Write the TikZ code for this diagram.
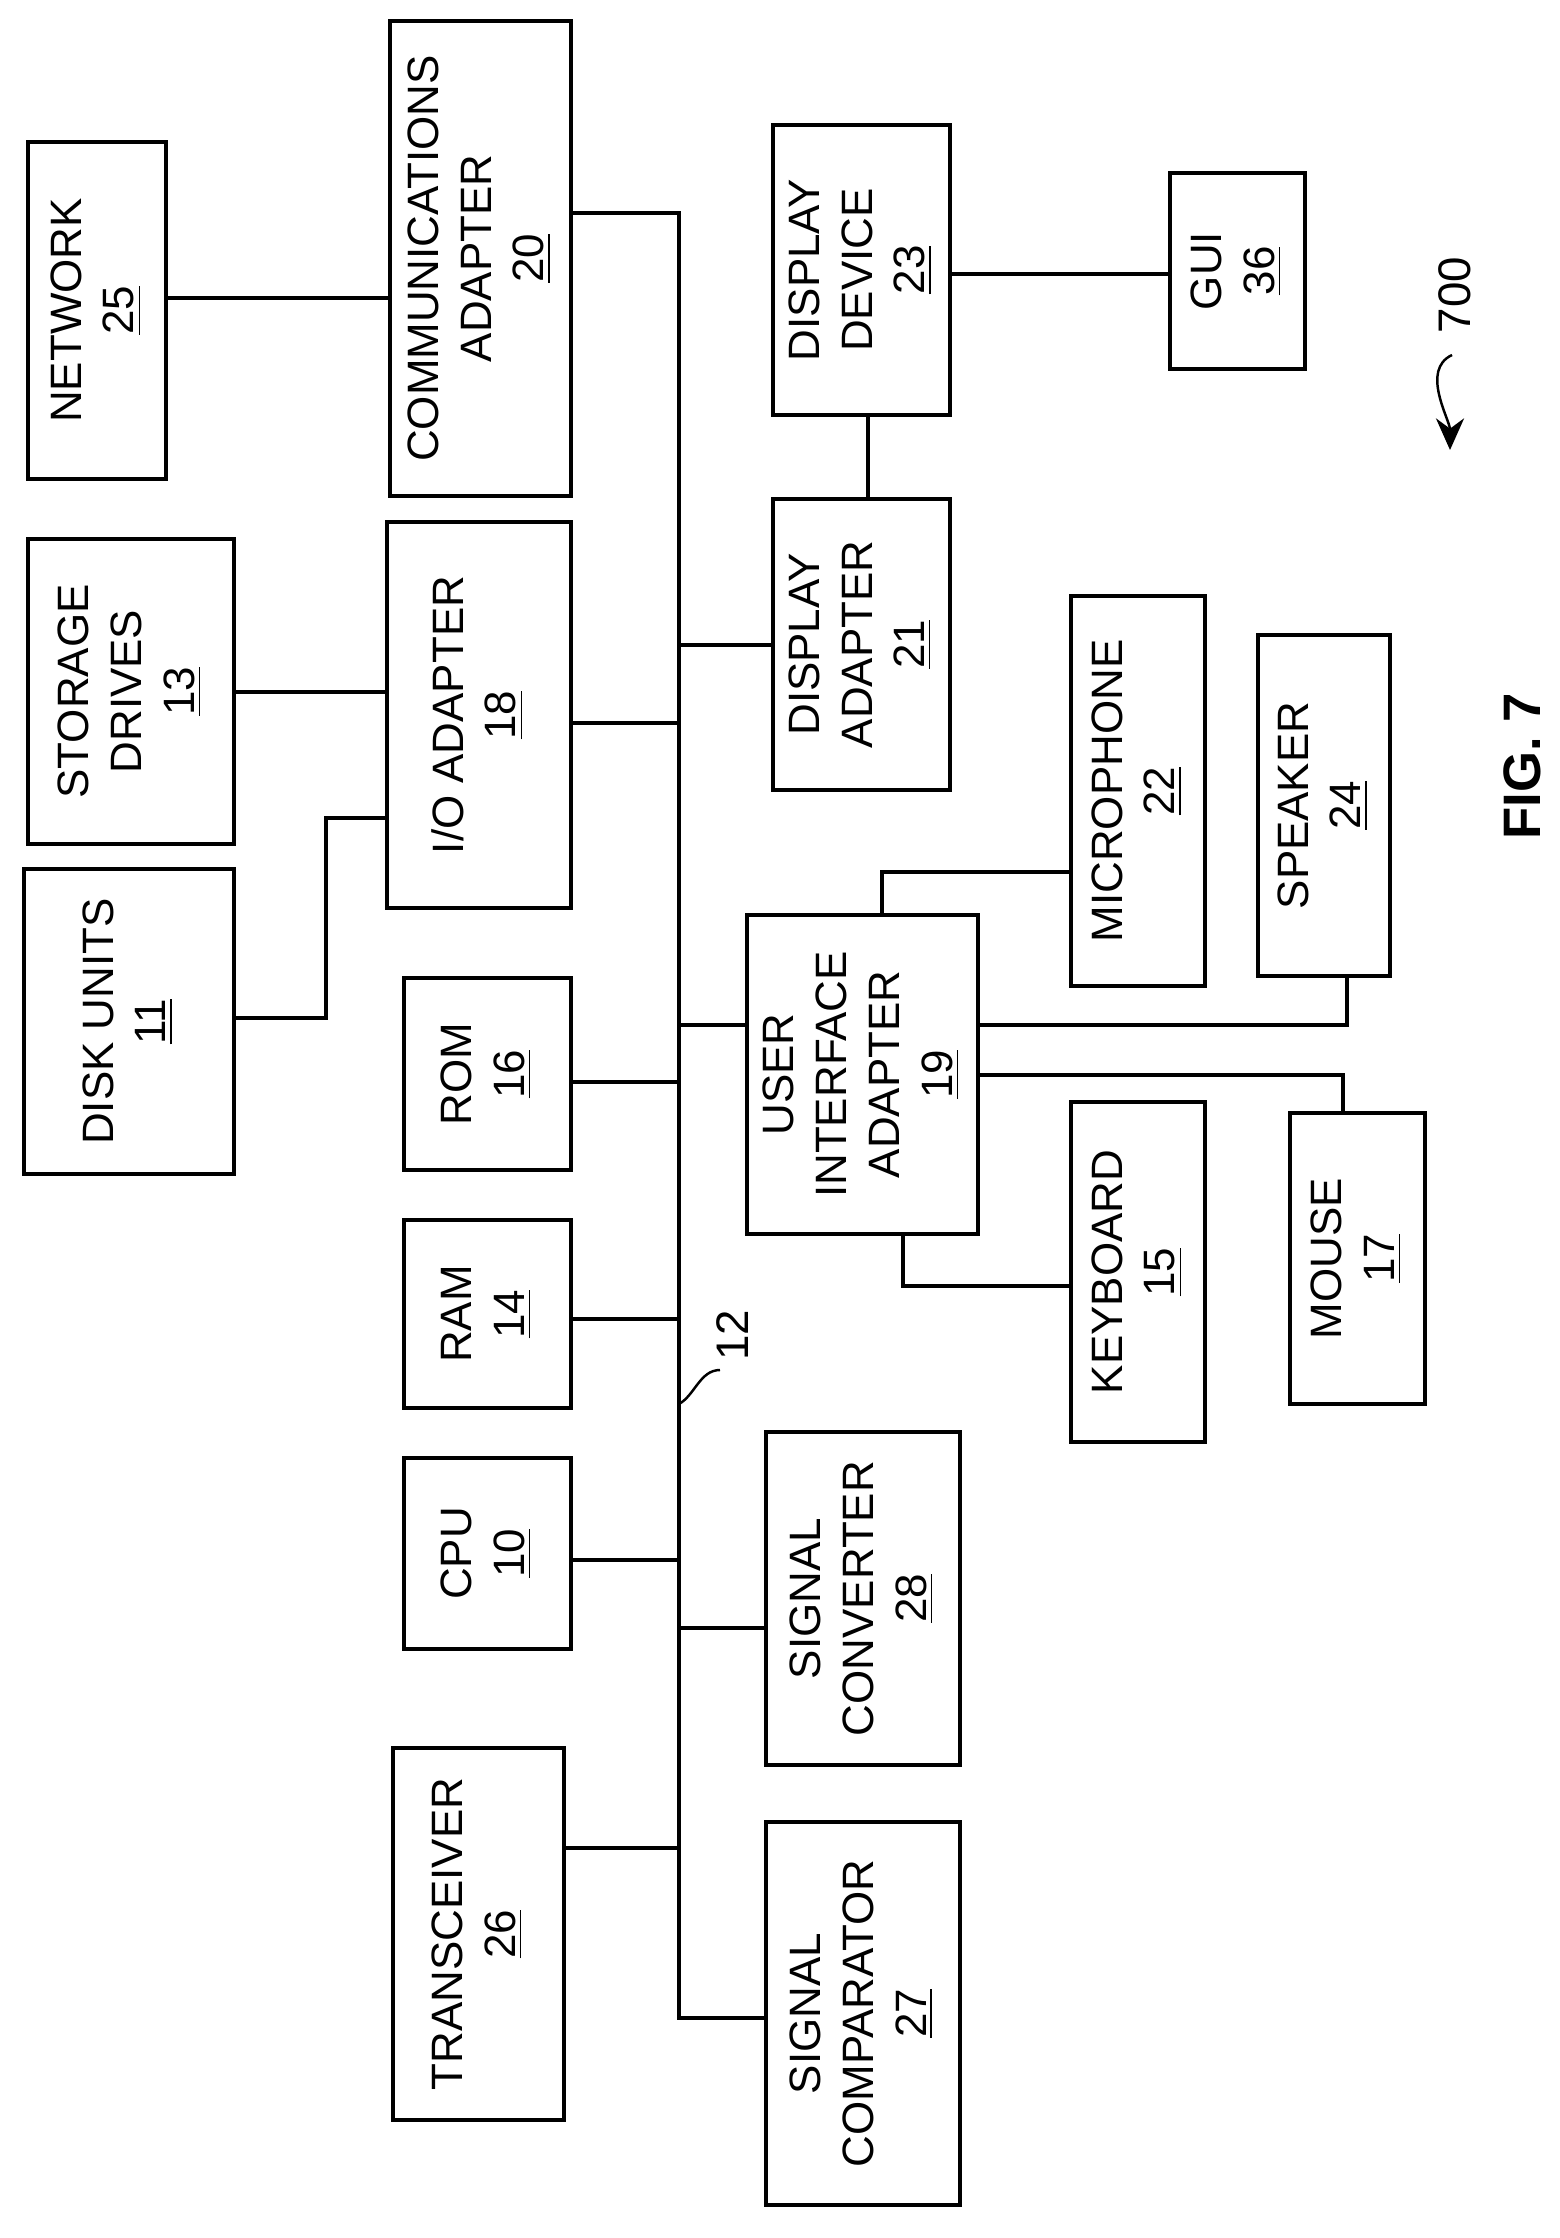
\documentclass[tikz,border=0pt]{standalone}
\usepackage{fontspec}
\setmainfont{Liberation Sans}
\usetikzlibrary{positioning,calc,arrows.meta}

\tikzset{
  blk/.style={draw, line width=1.1pt, inner sep=0pt, font=\fontsize{12.5}{15}\selectfont},
  wire/.style={line width=0.9pt}
}
\newcommand\rtxt[1]{\rotatebox{90}{\begin{tabular}{@{}c@{}}#1\end{tabular}}}

\begin{document}
\begin{tikzpicture}
  \useasboundingbox (0,0) rectangle (15.6,-22.38);

  % left column
  \node[blk, minimum width=1.38cm, minimum height=3.37cm] (net) at (0.97,-3.105) {\rtxt{NETWORK\\\underline{25}}};
  \node[blk, minimum width=2.06cm, minimum height=3.05cm] (stor) at (1.31,-6.915) {\rtxt{STORAGE\\DRIVES\\\underline{13}}};
  \node[blk, minimum width=2.10cm, minimum height=3.05cm] (disk) at (1.29,-10.215) {\rtxt{DISK UNITS\\\underline{11}}};

  % second column
  \node[blk, minimum width=1.81cm, minimum height=4.75cm] (comm) at (4.805,-2.585) {\rtxt{COMMUNICATIONS\\ADAPTER\\\underline{20}}};
  \node[blk, minimum width=1.84cm, minimum height=3.86cm] (io) at (4.79,-7.15) {\rtxt{I/O ADAPTER\\\underline{18}}};
  \node[blk, minimum width=1.67cm, minimum height=1.92cm] (rom) at (4.875,-10.74) {\rtxt{ROM\\\underline{16}}};
  \node[blk, minimum width=1.67cm, minimum height=1.88cm] (ram) at (4.875,-13.14) {\rtxt{RAM\\\underline{14}}};
  \node[blk, minimum width=1.67cm, minimum height=1.91cm] (cpu) at (4.875,-15.535) {\rtxt{CPU\\\underline{10}}};
  \node[blk, minimum width=1.71cm, minimum height=3.72cm] (trans) at (4.785,-19.34) {\rtxt{TRANSCEIVER\\\underline{26}}};

  % right of bus
  \node[blk, minimum width=1.77cm, minimum height=2.90cm] (ddev) at (8.615,-2.70) {\rtxt{DISPLAY\\DEVICE\\\underline{23}}};
  \node[blk, minimum width=1.35cm, minimum height=1.96cm] (gui) at (12.375,-2.71) {\rtxt{GUI\\\underline{36}}};
  \node[blk, minimum width=1.77cm, minimum height=2.91cm] (dadp) at (8.615,-6.445) {\rtxt{DISPLAY\\ADAPTER\\\underline{21}}};
  \node[blk, minimum width=1.34cm, minimum height=3.90cm] (mic) at (11.38,-7.91) {\rtxt{MICROPHONE\\\underline{22}}};
  \node[blk, minimum width=1.32cm, minimum height=3.41cm] (spk) at (13.24,-8.055) {\rtxt{SPEAKER\\\underline{24}}};
  \node[blk, minimum width=2.31cm, minimum height=3.19cm] (uia) at (8.625,-10.745) {\rtxt{USER\\INTERFACE\\ADAPTER\\\underline{19}}};
  \node[blk, minimum width=1.34cm, minimum height=3.40cm] (kb) at (11.38,-12.72) {\rtxt{KEYBOARD\\\underline{15}}};
  \node[blk, minimum width=1.35cm, minimum height=2.91cm] (mouse) at (13.575,-12.585) {\rtxt{MOUSE\\\underline{17}}};
  \node[blk, minimum width=1.94cm, minimum height=3.33cm] (sconv) at (8.63,-15.985) {\rtxt{SIGNAL\\CONVERTER\\\underline{28}}};
  \node[blk, minimum width=1.94cm, minimum height=3.83cm] (scomp) at (8.63,-20.135) {\rtxt{SIGNAL\\COMPARATOR\\\underline{27}}};

  % bus 12
  \coordinate (bustop) at (6.79,-2.13);
  \coordinate (busbot) at (6.79,-20.18);
  \draw[wire] (comm.east |- bustop) -- (bustop) -- (busbot) -- (scomp.west |- busbot);

  \foreach \n/\y in {io/-7.23, rom/-10.82, ram/-13.19, cpu/-15.60, trans/-18.48}
    \draw[wire] (\n.east |- 0,\y) -- (6.79,\y);
  \foreach \n/\y in {dadp/-6.45, uia/-10.25, sconv/-16.28}
    \draw[wire] (6.79,\y) -- (\n.west |- 0,\y);

  \draw[wire] (net.east |- 0,-2.98) -- (comm.west |- 0,-2.98);
  \draw[wire] (stor.east |- 0,-6.92) -- (io.west |- 0,-6.92);
  \draw[wire] (disk.east |- 0,-10.18) -| (3.26,-8.18) -- (io.west |- 0,-8.18);
  \draw[wire] (ddev.south -| 8.68,0) -- (dadp.north -| 8.68,0);
  \draw[wire] (ddev.east |- 0,-2.74) -- (gui.west |- 0,-2.74);

  % user interface devices
  \draw[wire] (uia.north -| 8.82,0) |- (mic.west |- 0,-8.72);
  \draw[wire] (uia.east |- 0,-10.25) -| (spk.south -| 13.47,0);
  \draw[wire] (uia.east |- 0,-10.75) -| (mouse.north -| 13.43,0);
  \draw[wire] (uia.south -| 9.03,0) |- (kb.west |- 0,-12.86);

  % reference labels
  \coordinate (b12) at (6.79,-14.04);
  \draw[line width=0.7pt] (b12) .. controls (6.95,-13.95) and (7.0,-13.7) .. (7.2,-13.7);
  \node[rotate=90, font=\fontsize{13}{15}\selectfont] (l12) at (7.33,-13.35) {12};

  \node[rotate=90, font=\fontsize{13}{15}\selectfont] (l700) at (14.55,-2.95) {700};
  \coordinate (a700) at (14.5,-4.5);
  \draw[line width=0.7pt, -{Stealth[length=9pt,width=8pt]}] (14.52,-3.55) .. controls (14.2,-3.7) and (14.5,-4.2) .. (a700);

  \node[rotate=90, font=\bfseries\fontsize{15}{18}\selectfont] (fig) at (15.22,-7.66) {FIG. 7};
\end{tikzpicture}
\end{document}
